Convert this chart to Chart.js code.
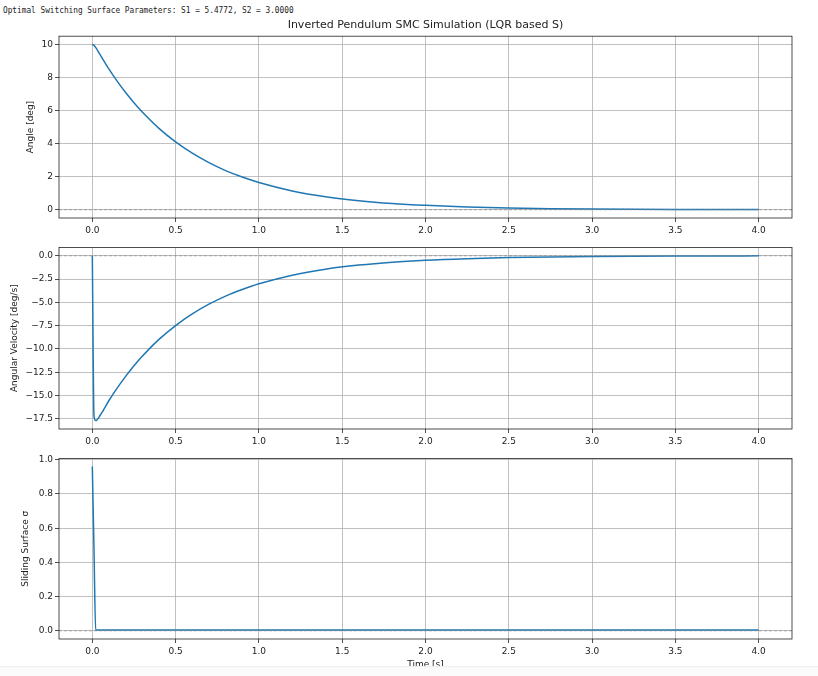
<!DOCTYPE html>
<html>
<head>
<meta charset="utf-8">
<script src="https://cdn.jsdelivr.net/npm/chart.js@4"></script>
<style>
  body { margin: 0; background: #fff; width: 818px; height: 676px; overflow: hidden; position: relative; }
  canvas { position: absolute; left: 0; }
  #params { position: absolute; left: 3px; top: 5px; font: 9px "DejaVu Sans Mono", monospace; color: #222;
            transform: scaleX(0.865); transform-origin: left top; white-space: pre; }
  #foot { position: absolute; left: 0; top: 666px; width: 818px; height: 10px; background: #fbfbfb; border-top: 1px solid #eee; }
</style>
</head>
<body>
<div id="params">Optimal Switching Surface Parameters: S1 = 5.4772, S2 = 3.0000</div>
<canvas id="c1" width="818" height="240" style="top:0px"></canvas>
<canvas id="c2" width="818" height="211" style="top:240px"></canvas>
<canvas id="c3" width="818" height="221" style="top:451px"></canvas>
<div id="foot"></div>
<script>
// values
let timeS     = [0, 0.01, 0.02, 0.05, 0.1, 0.15, 0.2, 0.25, 0.3, 0.4, 0.5, 0.6, 0.7, 0.8, 0.9, 1.0,
                 1.2, 1.4, 1.6, 1.8, 2.0, 2.25, 2.5, 2.75, 3.0, 3.5, 4.0];
let angleDeg  = [10, 9.95, 9.82, 9.33, 8.51, 7.77, 7.09, 6.47, 5.91, 4.92, 4.10, 3.42, 2.85, 2.37, 1.98, 1.65,
                 1.14, 0.79, 0.55, 0.38, 0.265, 0.168, 0.106, 0.067, 0.043, 0.017, 0.007];
let angVelDeg = [0, -17.2, -17.7, -17.04, -15.54, -14.19, -12.95, -11.81, -10.79, -8.98, -7.49, -6.24, -5.20, -4.33, -3.62, -3.01,
                 -2.08, -1.44, -1.00, -0.69, -0.48, -0.31, -0.19, -0.12, -0.08, -0.03, -0.01];
let sigmaVal  = [0.96, 0.48, 0.005, 0.004, 0.004, 0.004, 0.004, 0.004, 0.004, 0.004, 0.004, 0.004, 0.004, 0.004, 0.004, 0.004,
                 0.004, 0.004, 0.004, 0.004, 0.004, 0.004, 0.004, 0.004, 0.004, 0.004, 0.004];

let xTicks     = [0, 0.5, 1.0, 1.5, 2.0, 2.5, 3.0, 3.5, 4.0];
let angleTicks = [0, 2, 4, 6, 8, 10];
let velTicks   = [-17.5, -15, -12.5, -10, -7.5, -5, -2.5, 0];
let sigmaTicks = [0, 0.2, 0.4, 0.6, 0.8, 1.0];

const tickFont = { family: 'DejaVu Sans', size: 9 };
const minus = s => s.replace('-', '\u2212');

// frame round the plot area and the dashed zero line
const framePlugin = {
  id: 'frame',
  afterDatasetsDraw(chart) {
    const a = chart.chartArea;
    const y0 = chart.scales.y.getPixelForValue(0);
    const ctx = chart.ctx;
    ctx.save();
    ctx.strokeStyle = '#888';
    ctx.lineWidth = 0.7;
    ctx.setLineDash([3, 2]);
    ctx.beginPath();
    ctx.moveTo(a.left, y0);
    ctx.lineTo(a.right, y0);
    ctx.stroke();
    ctx.restore();
  },
  afterDraw(chart) {
    const a = chart.chartArea;
    const ctx = chart.ctx;
    ctx.save();
    ctx.strokeStyle = '#222';
    ctx.lineWidth = 0.8;
    ctx.strokeRect(a.left, a.top, a.right - a.left, a.bottom - a.top);
    ctx.restore();
  }
};

function makeChart(id, values, opt) {
  let points = timeS.map((t, i) => ({ x: t, y: values[i] }));
  return new Chart(document.getElementById(id), {
    type: 'line',
    data: {
      datasets: [{
        data: points,
        borderColor: '#1f77b4',
        borderWidth: 1.5,
        pointRadius: 0,
        cubicInterpolationMode: 'monotone',
        fill: false
      }]
    },
    options: {
      responsive: false,
      animation: false,
      devicePixelRatio: 1,
      layout: { padding: { left: 0, right: 26, top: opt.padTop, bottom: 0 } },
      plugins: {
        legend: { display: false },
        tooltip: { enabled: false },
        title: opt.title ? {
          display: true, text: opt.title, color: '#222', fullSize: false,
          font: { family: 'DejaVu Sans', size: 11, weight: 'normal' },
          padding: { top: 19, bottom: 4 }
        } : { display: false }
      },
      scales: {
        x: {
          type: 'linear',
          min: -0.2, max: 4.2,
          afterBuildTicks: s => { s.ticks = xTicks.map(v => ({ value: v })); },
          afterFit: s => { s.height = opt.xHeight; },
          ticks: { font: tickFont, color: '#222', padding: 3, maxRotation: 0, callback: v => v.toFixed(1) },
          grid: { color: '#b0b0b0', lineWidth: 0.8, tickLength: 4, tickColor: '#222' },
          border: { display: false },
          title: opt.xTitle ? {
            display: true, text: opt.xTitle, color: '#222', font: tickFont,
            padding: { top: 0, bottom: 1.6 }
          } : { display: false }
        },
        y: {
          min: opt.min, max: opt.max,
          afterBuildTicks: s => { s.ticks = opt.ticks.map(v => ({ value: v })); },
          afterFit: s => { s.width = 59; },
          ticks: { font: tickFont, color: '#222', padding: 2, callback: opt.fmt },
          grid: { color: '#b0b0b0', lineWidth: 0.8, tickLength: 4, tickColor: '#222' },
          border: { display: false },
          title: {
            display: true, text: opt.yTitle, color: '#222', font: tickFont,
            padding: { top: opt.yTitlePad, bottom: 0 }
          }
        }
      }
    },
    plugins: [framePlugin]
  });
}

makeChart('c1', angleDeg, {
  title: 'Inverted Pendulum SMC Simulation (LQR based S)',
  padTop: 0, xHeight: 22, min: -0.5, max: 10.5, ticks: angleTicks,
  fmt: v => String(v), yTitle: 'Angle [deg]', yTitlePad: 25.6
});
makeChart('c2', angVelDeg, {
  padTop: 6, xHeight: 22, min: -18.6, max: 0.9, ticks: velTicks,
  fmt: v => minus(v.toFixed(1)), yTitle: 'Angular Velocity [deg/s]', yTitlePad: 9.6
});
makeChart('c3', sigmaVal, {
  padTop: 7, xHeight: 33, min: -0.048, max: 1.008, ticks: sigmaTicks, xTitle: 'Time [s]',
  fmt: v => v.toFixed(1), yTitle: 'Sliding Surface \u03c3', yTitlePad: 20.6
});
</script>
</body>
</html>
